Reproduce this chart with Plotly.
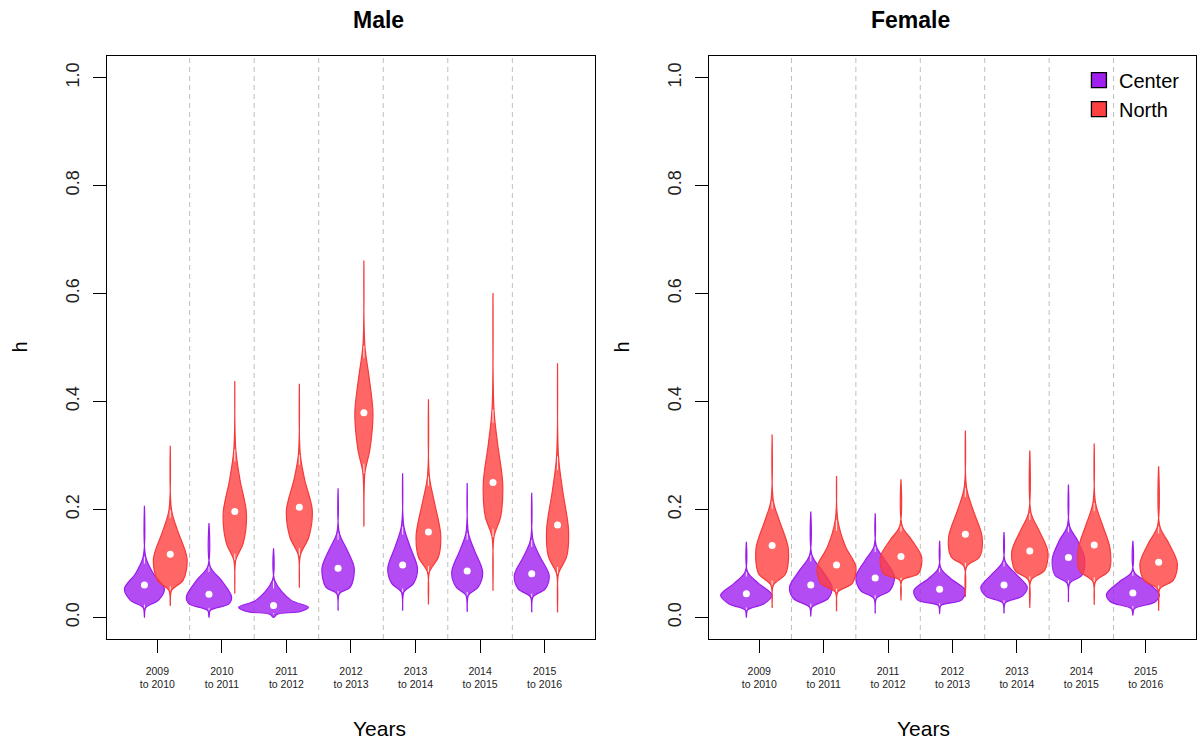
import plotly.graph_objects as go

# ---------------- data ----------------
categories = [1, 2, 3, 4, 5, 6, 7]
year_labels = ["2009<br>to 2010", "2010<br>to 2011", "2011<br>to 2012", "2012<br>to 2013",
               "2013<br>to 2014", "2014<br>to 2015", "2015<br>to 2016"]
y_ticks = [0.0, 0.2, 0.4, 0.6, 0.8, 1.0]
y_tick_text = ["0.0", "0.2", "0.4", "0.6", "0.8", "1.0"]

# each violin: density profile levels (bottom tip .. top tip) and half-widths at those levels
male_center_levels = [
    [0.000, 0.018, 0.032, 0.053, 0.081, 0.112, 0.207],
    [0.000, 0.013, 0.025, 0.038, 0.069, 0.094, 0.175],
    [0.000, 0.006, 0.011, 0.019, 0.032, 0.068, 0.128],
    [0.013, 0.044, 0.056, 0.091, 0.125, 0.156, 0.239],
    [0.013, 0.047, 0.063, 0.091, 0.131, 0.168, 0.267],
    [0.011, 0.041, 0.056, 0.084, 0.125, 0.156, 0.249],
    [0.010, 0.038, 0.053, 0.078, 0.112, 0.143, 0.231],
]
male_center_width = [
    [0, 0.02, 0.22, 0.31, 0.14, 0.02, 0],
    [0, 0.02, 0.31, 0.35, 0.19, 0.02, 0],
    [0, 0.06, 0.42, 0.54, 0.27, 0.02, 0],
    [0, 0.02, 0.19, 0.25, 0.14, 0.02, 0],
    [0, 0.02, 0.17, 0.23, 0.116, 0.02, 0],
    [0, 0.02, 0.17, 0.24, 0.11, 0.02, 0],
    [0, 0.02, 0.21, 0.27, 0.13, 0.02, 0],
]
male_center_median = [0.060, 0.043, 0.022, 0.091, 0.097, 0.086, 0.081]

male_north_levels = [
    [0.022, 0.050, 0.069, 0.109, 0.162, 0.199, 0.318],
    [0.045, 0.106, 0.137, 0.193, 0.255, 0.311, 0.438],
    [0.056, 0.115, 0.149, 0.199, 0.255, 0.301, 0.433],
    [0.168, 0.267, 0.311, 0.379, 0.447, 0.503, 0.661],
    [0.025, 0.084, 0.112, 0.153, 0.218, 0.261, 0.404],
    [0.050, 0.149, 0.187, 0.249, 0.323, 0.385, 0.601],
    [0.010, 0.081, 0.112, 0.162, 0.236, 0.298, 0.471],
]
male_north_width = [
    [0, 0.02, 0.20, 0.26, 0.11, 0.02, 0],
    [0, 0.015, 0.13, 0.18, 0.08, 0.015, 0],
    [0, 0.015, 0.147, 0.20, 0.083, 0.015, 0],
    [0, 0.015, 0.093, 0.14, 0.078, 0.015, 0],
    [0, 0.015, 0.155, 0.19, 0.083, 0.015, 0],
    [0, 0.015, 0.12, 0.15, 0.07, 0.015, 0],
    [0, 0.015, 0.14, 0.17, 0.078, 0.015, 0],
]
male_north_median = [0.117, 0.196, 0.204, 0.379, 0.158, 0.250, 0.171]

female_center_levels = [
    [0.000, 0.014, 0.025, 0.041, 0.063, 0.084, 0.140],
    [0.002, 0.019, 0.035, 0.056, 0.087, 0.115, 0.196],
    [0.008, 0.035, 0.050, 0.075, 0.106, 0.131, 0.193],
    [0.007, 0.022, 0.032, 0.050, 0.072, 0.091, 0.142],
    [0.008, 0.027, 0.039, 0.056, 0.081, 0.103, 0.158],
    [0.029, 0.063, 0.078, 0.109, 0.143, 0.168, 0.246],
    [0.004, 0.016, 0.029, 0.043, 0.066, 0.084, 0.142],
]
female_center_width = [
    [0, 0.02, 0.27, 0.40, 0.19, 0.02, 0],
    [0, 0.02, 0.27, 0.33, 0.175, 0.02, 0],
    [0, 0.02, 0.23, 0.30, 0.155, 0.02, 0],
    [0, 0.02, 0.34, 0.40, 0.17, 0.02, 0],
    [0, 0.02, 0.28, 0.36, 0.18, 0.02, 0],
    [0, 0.02, 0.21, 0.25, 0.14, 0.02, 0],
    [0, 0.02, 0.35, 0.41, 0.21, 0.02, 0],
]
female_center_median = [0.044, 0.060, 0.073, 0.052, 0.060, 0.111, 0.045]

female_north_levels = [
    [0.018, 0.060, 0.081, 0.128, 0.180, 0.215, 0.339],
    [0.012, 0.047, 0.063, 0.094, 0.131, 0.180, 0.262],
    [0.032, 0.069, 0.081, 0.112, 0.143, 0.169, 0.256],
    [0.039, 0.094, 0.112, 0.149, 0.199, 0.239, 0.346],
    [0.018, 0.069, 0.087, 0.122, 0.162, 0.193, 0.309],
    [0.024, 0.066, 0.087, 0.128, 0.174, 0.212, 0.322],
    [0.013, 0.053, 0.069, 0.100, 0.137, 0.168, 0.280],
]
female_north_width = [
    [0, 0.02, 0.21, 0.25, 0.11, 0.02, 0],
    [0, 0.02, 0.245, 0.30, 0.14, 0.02, 0],
    [0, 0.02, 0.27, 0.32, 0.17, 0.02, 0],
    [0, 0.02, 0.22, 0.26, 0.12, 0.02, 0],
    [0, 0.02, 0.23, 0.28, 0.14, 0.02, 0],
    [0, 0.02, 0.23, 0.245, 0.12, 0.02, 0],
    [0, 0.02, 0.23, 0.29, 0.16, 0.02, 0],
]
female_north_median = [0.133, 0.097, 0.113, 0.154, 0.123, 0.134, 0.102]

# ---------------- style ----------------
FONT = "Liberation Sans, Arial, sans-serif"
CENTER_FILL, CENTER_LINE = "rgba(160,32,240,0.8)", "#9A1CEB"
NORTH_FILL, NORTH_LINE = "rgba(255,64,64,0.8)", "#F53A3A"
OFFSET = 0.2

fig = go.Figure()


def add_group(xa, ya, levels, widths, medians, offset, fill, line):
    wx, wy = [], []
    for c, ys, ws in zip(categories, levels, widths):
        pos = c + offset
        xs = [pos + w for w in ws] + [pos - w for w in reversed(ws)]
        yy = list(ys) + list(reversed(ys))
        fig.add_trace(go.Scatter(
            x=xs, y=yy, xaxis=xa, yaxis=ya, mode="lines", fill="toself",
            fillcolor=fill, line=dict(color=line, width=1.2, shape="spline", smoothing=0.9),
            showlegend=False, hoverinfo="skip"))
        # whisker segments (white) in the narrow necks
        lo_a, lo_b = ys[1], ys[1] + 0.4 * (ys[2] - ys[1])
        hi_a, hi_b = ys[5] - 0.4 * (ys[5] - ys[4]), ys[5]
        wx += [pos, pos, None, pos, pos, None]
        wy += [lo_a, lo_b, None, hi_a, hi_b, None]
    fig.add_trace(go.Scatter(x=wx, y=wy, xaxis=xa, yaxis=ya, mode="lines",
                             line=dict(color="rgba(255,255,255,0.85)", width=1),
                             showlegend=False, hoverinfo="skip"))
    fig.add_trace(go.Scatter(
        x=[c + offset for c in categories], y=medians, xaxis=xa, yaxis=ya, mode="markers",
        marker=dict(color="white", size=7, line=dict(width=0)),
        showlegend=False, hoverinfo="skip"))


add_group("x", "y", male_center_levels, male_center_width, male_center_median, -OFFSET, CENTER_FILL, CENTER_LINE)
add_group("x", "y", male_north_levels, male_north_width, male_north_median, OFFSET, NORTH_FILL, NORTH_LINE)
add_group("x2", "y2", female_center_levels, female_center_width, female_center_median, -OFFSET, CENTER_FILL, CENTER_LINE)
add_group("x2", "y2", female_north_levels, female_north_width, female_north_median, OFFSET, NORTH_FILL, NORTH_LINE)

# legend entries
for name, col in [("Center", "#A020F0"), ("North", "#FF4040")]:
    fig.add_trace(go.Scatter(x=[None], y=[None], xaxis="x2", yaxis="y2", mode="markers", name=name,
                             marker=dict(symbol="square", size=15, color=col,
                                         line=dict(color="black", width=1.3))))

# separators
shapes = []
for xr, yr in [("x", "y domain"), ("x2", "y2 domain")]:
    for c in categories[:-1]:
        shapes.append(dict(type="line", xref=xr, yref=yr, x0=c + 0.5, x1=c + 0.5, y0=0, y1=1,
                           line=dict(color="#BEBEBE", width=1, dash="5px,4px"), layer="below"))

xcommon = dict(range=[0.22, 7.78], tickmode="array", tickvals=categories, ticktext=year_labels,
               ticks="outside", ticklen=13, tickcolor="black", tickwidth=1,
               showline=True, mirror=True, linecolor="black", linewidth=1,
               showgrid=False, zeroline=False, tickfont=dict(family=FONT, size=10.5, color="#222"),
               ticklabelstandoff=9)
ycommon = dict(range=[-0.04, 1.04], tickmode="array", tickvals=y_ticks, ticktext=y_tick_text,
               tickangle=-90, ticks="outside", ticklen=13, tickcolor="black", tickwidth=1,
               showline=True, mirror=True, linecolor="black", linewidth=1,
               showgrid=False, zeroline=False, tickfont=dict(family=FONT, size=18, color="#222"),
               ticklabelstandoff=7)

D1 = [0, 0.4481]
D2 = [0.5528, 1.0]
annotations = [
    dict(text="<b>Male</b>", x=sum(D1) / 2, y=1.0617, xref="paper", yref="paper", showarrow=False,
         font=dict(family=FONT, size=23, color="black"), yanchor="middle"),
    dict(text="<b>Female</b>", x=sum(D2) / 2, y=1.0617, xref="paper", yref="paper", showarrow=False,
         font=dict(family=FONT, size=23, color="black"), yanchor="middle"),
    dict(text="Years", x=sum(D1) / 2, y=-0.1527, xref="paper", yref="paper", showarrow=False,
         font=dict(family=FONT, size=21, color="black"), yanchor="middle"),
    dict(text="Years", x=sum(D2) / 2, y=-0.1527, xref="paper", yref="paper", showarrow=False,
         font=dict(family=FONT, size=21, color="black"), yanchor="middle"),
    dict(text="h", x=-0.0808, y=0.5, xref="paper", yref="paper", showarrow=False, textangle=-90,
         font=dict(family=FONT, size=20, color="black"), xanchor="center", yanchor="middle"),
    dict(text="h", x=0.472, y=0.5, xref="paper", yref="paper", showarrow=False, textangle=-90,
         font=dict(family=FONT, size=20, color="black"), xanchor="center", yanchor="middle"),
]

fig.update_layout(
    width=1197, height=742, margin=dict(l=107, r=1, t=56, b=103),
    paper_bgcolor="white", plot_bgcolor="white",
    font=dict(family=FONT, color="black"),
    xaxis=dict(domain=D1, anchor="y", **xcommon),
    yaxis=dict(domain=[0, 1], anchor="x", **ycommon),
    xaxis2=dict(domain=D2, anchor="y2", **xcommon),
    yaxis2=dict(domain=[0, 1], anchor="x2", **ycommon),
    shapes=shapes, annotations=annotations,
    legend=dict(x=0.8925, y=0.992, xanchor="left", yanchor="top", bgcolor="rgba(0,0,0,0)",
                font=dict(family=FONT, size=20, color="black"), tracegroupgap=0, itemsizing="trace"),
    showlegend=True,
)

fig.write_html("out.html")
